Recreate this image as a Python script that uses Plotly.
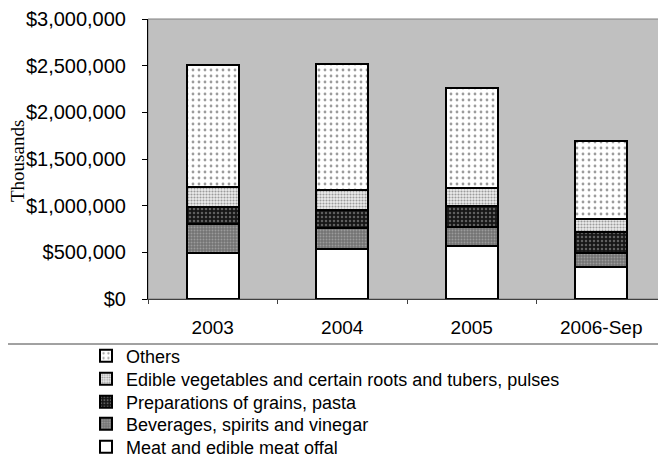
import plotly.graph_objects as go

categories = ["2003", "2004", "2005", "2006-Sep"]
meat = [490000, 536000, 568000, 346000]
beverages = [310000, 221000, 207000, 144000]
grains = [182000, 197000, 221000, 231000]
vegetables = [215000, 214000, 190000, 133000]
others = [1310000, 1350000, 1074000, 842000]

# the page body adds an 8 px offset; the figure fills the rest of the window
OFF = 8
W, H = 666 - OFF, 461 - OFF


def px_x(p):
    # p: page pixel x
    return (p - OFF) / W


def px_y(p):
    # p: page pixel y
    return (H - (p - OFF)) / H


series = [
    ("Meat and edible meat offal", meat,
     dict(shape="", bgcolor="white", fgcolor="white"), "legend5", 447),
    ("Beverages, spirits and vinegar", beverages,
     dict(shape=".", bgcolor="#727272", fgcolor="#c4c4c4", size=3, solidity=0.35), "legend4", 424),
    ("Preparations of grains, pasta", grains,
     dict(shape=".", bgcolor="#161616", fgcolor="#a8a8a8", size=4, solidity=0.3), "legend3", 402),
    ("Edible vegetables and certain roots and tubers, pulses", vegetables,
     dict(shape=".", bgcolor="#ececec", fgcolor="#4a4a4a", size=3, solidity=0.4), "legend2", 379),
    ("Others", others,
     dict(shape=".", bgcolor="white", fgcolor="#3a3a3a", size=6, solidity=0.17), "legend", 356),
]

fig = go.Figure()
legends = {}
for name, vals, pat, leg, ypix in series:
    fig.add_trace(go.Bar(
        x=categories, y=vals, name=name, width=0.4, legend=leg,
        marker=dict(color=pat["bgcolor"], pattern=pat,
                    line=dict(color="black", width=2)),
    ))
    legends[leg] = dict(
        x=px_x(86), xanchor="left",
        y=px_y(ypix), yanchor="middle",
        bgcolor="rgba(0,0,0,0)", borderwidth=0,
        font=dict(size=18),
        itemwidth=30,
    )

plot_left, plot_top, plot_bottom = 148, 19, 299

fig.update_layout(
    width=W, height=H,
    margin=dict(l=0, r=0, t=0, b=0, pad=0, autoexpand=False),
    barmode="stack",
    paper_bgcolor="white",
    plot_bgcolor="#c0c0c0",
    font=dict(family="Liberation Sans, Arial, sans-serif", size=18, color="black"),
    showlegend=True,
    xaxis=dict(
        domain=[px_x(plot_left), 1.0],
        type="category", showgrid=False, showline=True,
        linecolor="#404040", linewidth=1,
        ticks="outside", tickson="boundaries", ticklen=4, tickcolor="#404040",
        ticklabelstandoff=11,
        tickfont=dict(size=19),
        range=[-0.5, 3.5],
        automargin=False,
        ticklabeloverflow="allow",
    ),
    yaxis=dict(
        domain=[px_y(plot_bottom), px_y(plot_top)],
        range=[0, 3000000], dtick=500000, tickprefix="$", tickformat=",",
        showgrid=False, showline=True, linecolor="black", linewidth=1,
        ticks="outside", ticklen=5, tickcolor="black",
        ticklabelstandoff=12,
        tickfont=dict(size=20),
        zeroline=False,
        automargin=False,
        ticklabeloverflow="allow",
    ),
    shapes=[
        dict(type="rect", xref="x domain", yref="y domain",
             x0=0, x1=1.01, y0=0, y1=1,
             line=dict(color="#808080", width=1), fillcolor="rgba(0,0,0,0)",
             layer="below"),
        dict(type="rect", xref="paper", yref="paper",
             x0=-0.05, x1=1.05, y0=-0.1, y1=px_y(344),
             line=dict(color="#444444", width=1), fillcolor="rgba(0,0,0,0)"),
    ],
    annotations=[
        dict(text="Thousands", xref="paper", yref="paper",
             x=px_x(18), y=px_y((plot_top + plot_bottom) / 2 + 2),
             xanchor="center", yanchor="middle",
             textangle=-90, showarrow=False,
             font=dict(family="Liberation Serif, Times New Roman, serif", size=19)),
    ],
    **legends,
)

fig.write_html("out.html")
